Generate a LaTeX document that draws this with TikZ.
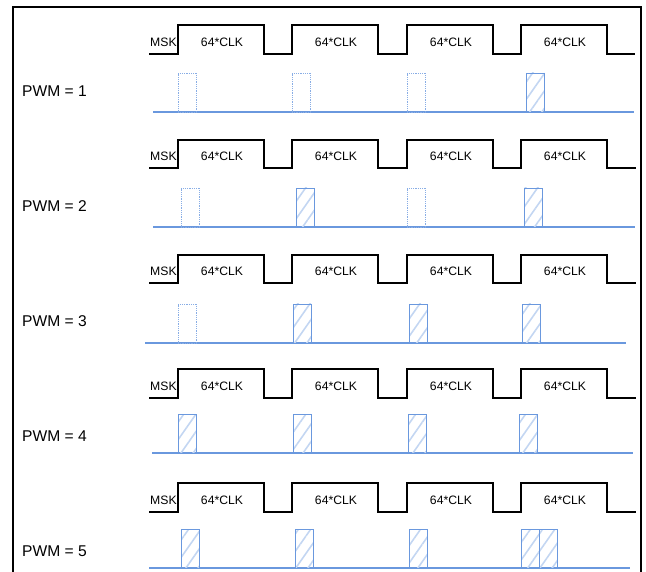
\documentclass[tikz,border=0pt]{standalone}
\usepackage{fontspec}
\setmainfont{Liberation Sans}
\usepackage{tikz}
\usetikzlibrary{patterns.meta}
\definecolor{pwmblue}{RGB}{106,152,222}
\newcommand{\clk}{64*CLK}

\begin{document}
\begin{tikzpicture}[x=1pt, y=-1pt, wavestyle/.style = {draw, line width=1.3pt, line join=miter}, zeroline/.style = {draw=pwmblue, line width=1.2pt}, clkstyle/.style = {font=\fontsize{12.2}{14}\selectfont, inner sep=0pt}, pwmstyle/.style = {font=\fontsize{15.6}{18}\selectfont, anchor=west, inner sep=0pt}, pulsebase/.style = {rectangle, anchor=south west, minimum width=18pt, minimum height=39pt, inner sep=0pt, outer sep=0pt}, pulseoff/.style = {pulsebase, draw=pwmblue!80, line width=0.8pt, densely dotted}, pulseon/.style = {pulsebase, draw=pwmblue, line width=0.9pt, pattern={Lines[angle=55, distance=10pt, line width=1.6pt]}, pattern color=pwmblue!40}]
  \useasboundingbox (0,0) rectangle (646,572);
  % frame
  \draw[line width=1.3pt] (13,572) |- (641,7) -- (641,572);

  % PWM = 1
  \node[pwmstyle] (pwm1) at (22,91) {PWM = 1};
  \draw[wavestyle] (149,54) -| (178,25) -| (264,54) -| (292,25) -| (378,54) -| (407,25) -| (493,54) -| (521,25) -| (607,54) -- (635,54);
  \node[clkstyle, anchor=west] (msk1) at (150,42) {MSK};
  \node[clkstyle] (clk11) at (222,42) {\clk};
  \node[clkstyle] (clk12) at (336,42) {\clk};
  \node[clkstyle] (clk13) at (451,42) {\clk};
  \node[clkstyle] (clk14) at (565,42) {\clk};
  \draw[zeroline] (153,112) -- (634,112);
  \node[pulseoff] (p11) at (178,112) {};
  \node[pulseoff] (p12) at (292,112) {};
  \node[pulseoff] (p13) at (407,112) {};
  \node[pulseon] (p14) at (526,112) {};

  % PWM = 2
  \node[pwmstyle] (pwm2) at (22,206) {PWM = 2};
  \draw[wavestyle] (149,168) -| (178,140) -| (264,168) -| (292,140) -| (378,168) -| (407,140) -| (493,168) -| (521,140) -| (607,168) -- (636,168);
  \node[clkstyle, anchor=west] (msk2) at (150,156) {MSK};
  \node[clkstyle] (clk21) at (222,156) {\clk};
  \node[clkstyle] (clk22) at (336,156) {\clk};
  \node[clkstyle] (clk23) at (451,156) {\clk};
  \node[clkstyle] (clk24) at (565,156) {\clk};
  \draw[zeroline] (153,227) -- (635,227);
  \node[pulseoff] (p21) at (181,227) {};
  \node[pulseon] (p22) at (296,227) {};
  \node[pulseoff] (p23) at (407,227) {};
  \node[pulseon] (p24) at (524,227) {};

  % PWM = 3
  \node[pwmstyle] (pwm3) at (22,321) {PWM = 3};
  \draw[wavestyle] (149,283) -| (178,255) -| (264,283) -| (292,255) -| (378,283) -| (407,255) -| (493,283) -| (521,255) -| (607,283) -- (636,283);
  \node[clkstyle, anchor=west] (msk3) at (150,271) {MSK};
  \node[clkstyle] (clk31) at (222,271) {\clk};
  \node[clkstyle] (clk32) at (336,271) {\clk};
  \node[clkstyle] (clk33) at (451,271) {\clk};
  \node[clkstyle] (clk34) at (565,271) {\clk};
  \draw[zeroline] (145,343) -- (626,343);
  \node[pulseoff] (p31) at (178,343) {};
  \node[pulseon] (p32) at (293,343) {};
  \node[pulseon] (p33) at (409,343) {};
  \node[pulseon] (p34) at (522,343) {};

  % PWM = 4
  \node[pwmstyle] (pwm4) at (22,436) {PWM = 4};
  \draw[wavestyle] (149,398) -| (178,369) -| (264,398) -| (292,369) -| (378,398) -| (407,369) -| (493,398) -| (521,369) -| (607,398) -- (636,398);
  \node[clkstyle, anchor=west] (msk4) at (150,386) {MSK};
  \node[clkstyle] (clk41) at (222,386) {\clk};
  \node[clkstyle] (clk42) at (336,386) {\clk};
  \node[clkstyle] (clk43) at (451,386) {\clk};
  \node[clkstyle] (clk44) at (565,386) {\clk};
  \draw[zeroline] (152,453) -- (633,453);
  \node[pulseon] (p41) at (178,453) {};
  \node[pulseon] (p42) at (293,453) {};
  \node[pulseon] (p43) at (408,453) {};
  \node[pulseon] (p44) at (519,453) {};

  % PWM = 5
  \node[pwmstyle] (pwm5) at (22,551) {PWM = 5};
  \draw[wavestyle] (149,512) -| (178,483) -| (264,512) -| (292,483) -| (378,512) -| (407,483) -| (493,512) -| (521,483) -| (607,512) -- (636,512);
  \node[clkstyle, anchor=west] (msk5) at (150,500) {MSK};
  \node[clkstyle] (clk51) at (222,500) {\clk};
  \node[clkstyle] (clk52) at (336,500) {\clk};
  \node[clkstyle] (clk53) at (451,500) {\clk};
  \node[clkstyle] (clk54) at (565,500) {\clk};
  \draw[zeroline] (149,568) -- (630,568);
  \node[pulseon] (p51) at (181,568) {};
  \node[pulseon] (p52) at (295,568) {};
  \node[pulseon] (p53) at (409,568) {};
  \node[pulseon] (p54) at (521,568) {};
  \node[pulseon] (p55) at (539,568) {};

\end{tikzpicture}
\end{document}
